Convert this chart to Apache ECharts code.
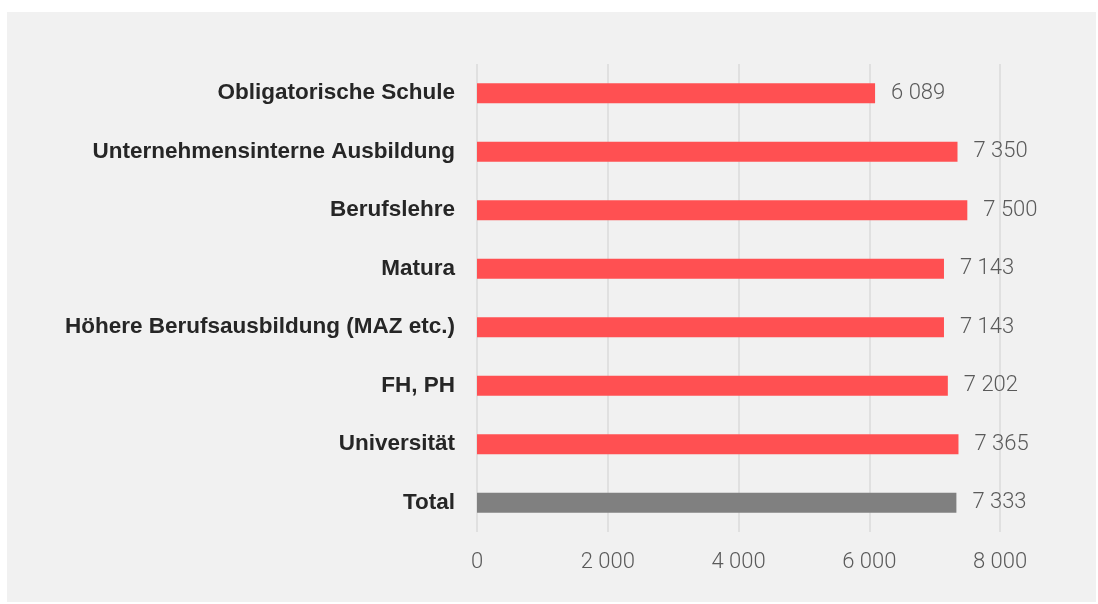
<!DOCTYPE html>
<html>
<head>
<meta charset="utf-8">
<title>Ausbildung</title>
<script src="https://cdn.jsdelivr.net/npm/echarts@6/dist/echarts.min.js"></script>
<style>
  html, body { margin: 0; padding: 0; background: #fff; }
  #panel { position: absolute; left: 7px; top: 12px; right: 2px; bottom: 2px; background: #f1f1f1; }
  #main { position: absolute; left: 0; top: 0; width: 1098px; height: 604px; }
</style>
</head>
<body>
<div id="panel"></div>
<div id="main"></div>
<script>
// Kategorien von oben nach unten
const categories = [
  'Obligatorische Schule',
  'Unternehmensinterne Ausbildung',
  'Berufslehre',
  'Matura',
  'Höhere Berufsausbildung (MAZ etc.)',
  'FH, PH',
  'Universität',
  'Total'
];
const values = [6089, 7350, 7500, 7143, 7143, 7202, 7365, 7333];
const xTicks = [0, 2000, 4000, 6000, 8000];

const red = '#ff5052';
const gray = '#808080';

// Tausender mit Leerzeichen
function fmt(v) {
  return String(v).replace(/\B(?=(\d{3})+(?!\d))/g, ' ');
}

var myChart = echarts.init(document.getElementById('main'));

const option = {
  backgroundColor: 'transparent',
  animation: false,
  grid: {
    left: 477,
    right: 98,
    top: 64,
    bottom: 72,
    containLabel: false
  },
  xAxis: {
    type: 'value',
    min: xTicks[0],
    max: xTicks[xTicks.length - 1],
    interval: 2000,
    axisLine: { show: false },
    axisTick: { show: false },
    splitLine: { lineStyle: { color: '#dadada', width: 1.5 } },
    axisLabel: {
      margin: 19,
      color: '#5a5a5a',
      fontFamily: 'Roboto',
      fontWeight: 300,
      fontSize: 22,
      formatter: fmt
    }
  },
  yAxis: {
    type: 'category',
    inverse: true,
    data: categories,
    axisLine: { show: false },
    axisTick: { show: false },
    axisLabel: {
      margin: 22,
      color: '#262626',
      fontFamily: 'Liberation Sans',
      fontWeight: 'bold',
      fontSize: 22.5
    }
  },
  series: [{
    type: 'bar',
    barWidth: 20,
    data: values.map((v, i) => ({
      value: v,
      itemStyle: { color: i === values.length - 1 ? gray : red }
    })),
    label: {
      show: true,
      position: 'right',
      distance: 16,
      color: '#5a5a5a',
      fontFamily: 'Roboto',
      fontWeight: 300,
      fontSize: 22,
      formatter: p => fmt(p.value)
    }
  }]
};

myChart.setOption(option);

window.addEventListener('resize', function () {
  myChart.resize();
});
</script>
</body>
</html>
